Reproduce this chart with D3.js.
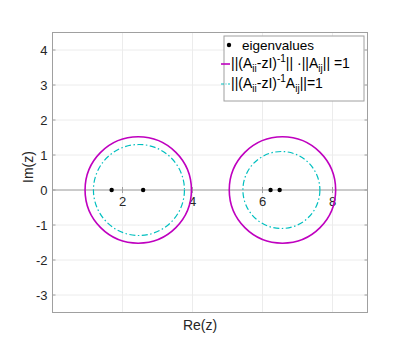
<!DOCTYPE html>
<html>
<head>
<meta charset="utf-8">
<script src="https://cdn.jsdelivr.net/npm/d3@7"></script>
<style>
  body { margin: 0; background: #fff; }
  svg { font-family: "Liberation Sans", Arial, sans-serif; }
</style>
</head>
<body>
<svg id="chart" width="407" height="358"></svg>
<script>
// values
const eigReal = [1.69, 2.59, 6.23, 6.49];
const eigImag = [0, 0, 0, 0];
const normCenters = [2.45, 6.57];
const normRadii = [1.52, 1.52];
const prodCenters = [2.47, 6.54];
const prodRadii = [1.3, 1.1];
const xTicks = [2, 4, 6, 8];
const yTicks = [-3, -2, -1, 0, 1, 2, 3, 4];

const magenta = "#bf00bf";
const cyan = "#00bfbf";
const axisGray = "#a0a0a0";

const svg = d3.select("#chart");
const plotLeft = 52.5, plotRight = 367.5, plotTop = 32.5, plotBottom = 312.5;

const x = d3.scaleLinear().domain([0, 9]).range([plotLeft, plotRight]);
const y = d3.scaleLinear().domain([-3.5, 4.5]).range([plotBottom, plotTop]);

// grid
svg.append("g")
  .selectAll("line")
  .data(xTicks)
  .join("line")
  .attr("x1", d => x(d)).attr("x2", d => x(d))
  .attr("y1", plotTop).attr("y2", plotBottom)
  .attr("stroke", "#ececec").attr("stroke-width", 1);

svg.append("g")
  .selectAll("line")
  .data(yTicks)
  .join("line")
  .attr("x1", plotLeft).attr("x2", plotRight)
  .attr("y1", d => y(d)).attr("y2", d => y(d))
  .attr("stroke", "#ececec").attr("stroke-width", 1);

// zero line (real axis)
svg.append("line")
  .attr("x1", plotLeft).attr("x2", plotRight)
  .attr("y1", y(0)).attr("y2", y(0))
  .attr("stroke", axisGray).attr("stroke-width", 1);

// x ticks on the real axis
svg.append("g")
  .selectAll("line")
  .data(xTicks)
  .join("line")
  .attr("x1", d => x(d)).attr("x2", d => x(d))
  .attr("y1", y(0) - 3).attr("y2", y(0) + 3)
  .attr("stroke", axisGray);

svg.append("g")
  .selectAll("text")
  .data(xTicks)
  .join("text")
  .attr("x", d => x(d))
  .attr("y", y(0) + 16)
  .attr("text-anchor", "middle")
  .attr("font-size", 13)
  .attr("fill", "#262626")
  .text(d => d);

// frame
svg.append("rect")
  .attr("x", plotLeft).attr("y", plotTop)
  .attr("width", plotRight - plotLeft).attr("height", plotBottom - plotTop)
  .attr("fill", "none").attr("stroke", axisGray).attr("stroke-width", 1);

// y ticks left and right
svg.append("g")
  .selectAll("line")
  .data(yTicks)
  .join("line")
  .attr("x1", plotLeft).attr("x2", plotLeft + 3)
  .attr("y1", d => y(d)).attr("y2", d => y(d))
  .attr("stroke", axisGray);

svg.append("g")
  .selectAll("line")
  .data(yTicks)
  .join("line")
  .attr("x1", plotRight - 3).attr("x2", plotRight)
  .attr("y1", d => y(d)).attr("y2", d => y(d))
  .attr("stroke", axisGray);

svg.append("g")
  .selectAll("text")
  .data(yTicks)
  .join("text")
  .attr("x", plotLeft - 5)
  .attr("y", d => y(d) + 4.5)
  .attr("text-anchor", "end")
  .attr("font-size", 13)
  .attr("fill", "#262626")
  .text(d => d);

// axis labels
svg.append("text")
  .attr("x", 200)
  .attr("y", 330)
  .attr("text-anchor", "middle")
  .attr("font-size", 14)
  .attr("fill", "#262626")
  .text("Re(z)");

svg.append("text")
  .attr("transform", "translate(33,167) rotate(-90)")
  .attr("text-anchor", "middle")
  .attr("font-size", 14)
  .attr("fill", "#262626")
  .text("Im(z)");

// circles: ||(Aii-zI)^-1||·||Aij|| = 1
svg.append("g")
  .selectAll("ellipse")
  .data(normCenters)
  .join("ellipse")
  .attr("cx", d => x(d))
  .attr("cy", y(0))
  .attr("rx", (d, i) => x(normRadii[i]) - x(0))
  .attr("ry", (d, i) => y(0) - y(normRadii[i]))
  .attr("fill", "none")
  .attr("stroke", magenta)
  .attr("stroke-width", 1.6);

// circles: ||(Aii-zI)^-1 Aij|| = 1
svg.append("g")
  .selectAll("ellipse")
  .data(prodCenters)
  .join("ellipse")
  .attr("cx", d => x(d))
  .attr("cy", y(0))
  .attr("rx", (d, i) => x(prodRadii[i]) - x(0))
  .attr("ry", (d, i) => y(0) - y(prodRadii[i]))
  .attr("fill", "none")
  .attr("stroke", cyan)
  .attr("stroke-width", 1.2)
  .attr("stroke-dasharray", "6,2.5,1.5,2.5");

// eigenvalues
svg.append("g")
  .selectAll("circle")
  .data(eigReal)
  .join("circle")
  .attr("cx", d => x(d))
  .attr("cy", (d, i) => y(eigImag[i]))
  .attr("r", 2.2)
  .attr("fill", "#000");

// legend
const legend = svg.append("g");
legend.append("rect")
  .attr("x", 224).attr("y", 36)
  .attr("width", 140).attr("height", 65)
  .attr("fill", "#fff")
  .attr("stroke", axisGray).attr("stroke-width", 1);

legend.append("circle")
  .attr("cx", 229).attr("cy", 45).attr("r", 2.2).attr("fill", "#000");
legend.append("text")
  .attr("x", 242).attr("y", 49.5)
  .attr("font-size", 13.5)
  .attr("fill", "#000")
  .text("eigenvalues");

legend.append("line")
  .attr("x1", 221).attr("x2", 230)
  .attr("y1", 64).attr("y2", 64)
  .attr("stroke", magenta).attr("stroke-width", 1.6);
legend.append("line")
  .attr("x1", 221).attr("x2", 230)
  .attr("y1", 84).attr("y2", 84)
  .attr("stroke", cyan).attr("stroke-width", 1.2)
  .attr("stroke-dasharray", "3,1.5,1,1.5");

function addParts(textSel, parts) {
  parts.forEach(p => {
    const t = textSel.append("tspan").text(p[0]);
    if (p[1] === "sub") t.attr("font-size", 10).attr("dy", 4);
    if (p[1] === "sup") t.attr("font-size", 10).attr("dy", -6);
    if (p[1] === "back-sub") t.attr("dy", -4);
    if (p[1] === "back-sup") t.attr("dy", 6);
  });
}

const t1 = legend.append("text")
  .attr("x", 231).attr("y", 68)
  .attr("font-size", 14).attr("fill", "#000");
addParts(t1, [
  ["||(A"], ["ii", "sub"], ["-zI)", "back-sub"], ["-1", "sup"],
  ["|| ·||A", "back-sup"], ["ij", "sub"], ["|| =1", "back-sub"]
]);

const t2 = legend.append("text")
  .attr("x", 231).attr("y", 88)
  .attr("font-size", 14).attr("fill", "#000");
addParts(t2, [
  ["||(A"], ["ii", "sub"], ["-zI)", "back-sub"], ["-1", "sup"],
  ["A", "back-sup"], ["ij", "sub"], ["||=1", "back-sub"]
]);
</script>
</body>
</html>
